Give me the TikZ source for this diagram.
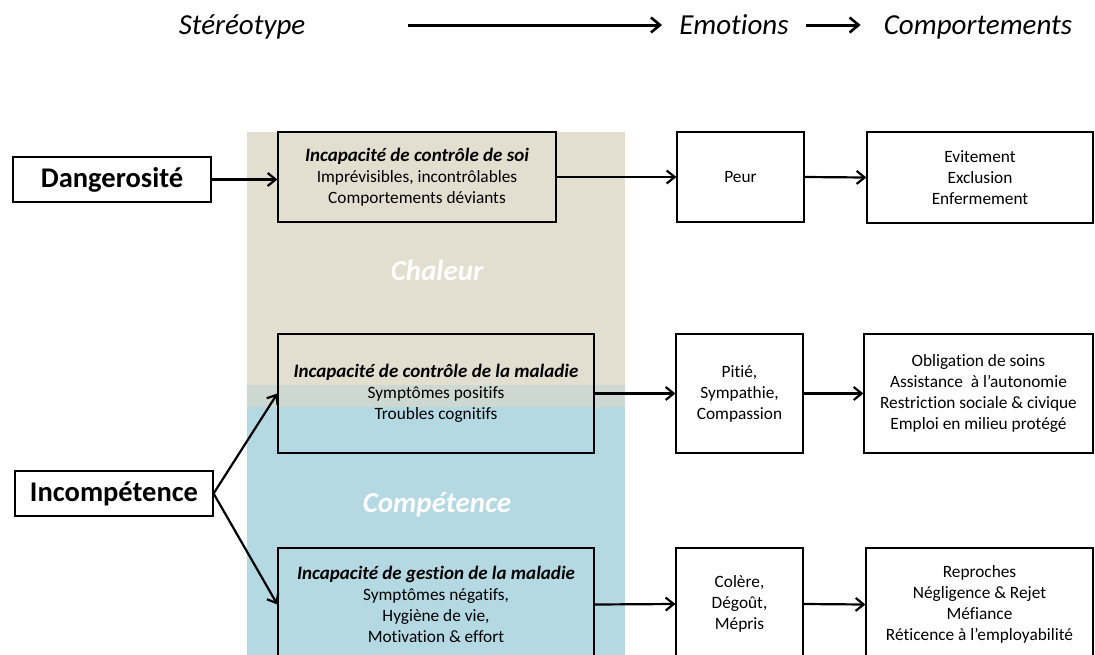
\documentclass[tikz,border=0pt]{standalone}
\usepackage{fontspec}
\setmainfont{Carlito}[Ligatures=NoCommon]
\usetikzlibrary{arrows.meta}
\definecolor{tanbg}{RGB}{227,223,208}
\definecolor{bluebg}{RGB}{180,217,227}
\definecolor{mixbg}{RGB}{205,216,210}
\newcommand{\btitle}[1]{{\fontsize{19}{21}\selectfont\bfseries\itshape #1}}
\tikzset{
  box/.style={draw=black, line width=1.2pt, align=center, font=\fontsize{17.3}{21}\selectfont, inner sep=0pt},
  keybox/.style={draw=black, line width=1.2pt, font=\fontsize{28.5}{30}\selectfont\bfseries, inner sep=0pt},
  head/.style={font=\fontsize{29}{32}\selectfont\itshape, inner sep=0pt, anchor=base},
  zone/.style={text=white, font=\fontsize{29}{32}\selectfont\bfseries\itshape},
  arr/.style={line width=2.2pt, -{Straight Barb[length=8pt,width=13pt,line width=2.2pt]}},
  harr/.style={line width=3pt, -{Straight Barb[length=9pt,width=15pt,line width=2.6pt]}}
}
\begin{document}
\begin{tikzpicture}[x=1pt,y=-1pt]
\useasboundingbox (0,0) rectangle (1095,654);
\clip (0,0) rectangle (1095,654);
% background zones
\fill[tanbg] (247,132) rectangle (625,385);
\fill[mixbg] (247,385) rectangle (625,407);
\fill[bluebg] (247,407) rectangle (625,660);
\node[zone] (chaleur) at (437,270) {Chaleur};
\node[zone] (competence) at (437,505) {Compétence};
% header
\node[head] (stereo) at (242,34) {Stéréotype};
\node[head] (emo) at (734,34) {Emotions};
\node[head] (comp) at (978,34) {Comportements};
\coordinate (hs) at (408,25);
\coordinate (he) at (662,25);
\draw[harr] (hs) -- (he);
\draw[harr, shorten <=17pt, shorten >=23pt] (emo.east |- hs) -- (comp.west |- hs);
% left keys
\node[keybox, minimum width=198pt, minimum height=45pt] (dang) at (112,179.5) {Dangerosité};
\node[keybox, minimum width=198pt, minimum height=45pt] (incomp) at (114,493.5) {Incompétence};
% stereotype boxes
\node[box, fill=tanbg, minimum width=278pt, minimum height=90pt] (b1) at (417,177)
  {\btitle{Incapacité de contrôle de soi}\\Imprévisibles, incontrôlables\\Comportements déviants};
\node[box, minimum width=316pt, minimum height=119pt] (b2) at (436,393.5)
  {\btitle{Incapacité de contrôle de la maladie}\\Symptômes positifs\\Troubles cognitifs};
\node[box, minimum width=316pt, minimum height=113pt] (b3) at (436,604.5)
  {\btitle{Incapacité de gestion de la maladie}\\Symptômes négatifs,\\Hygiène de vie,\\Motivation \& effort};
% emotion boxes
\node[box, fill=white, minimum width=127pt, minimum height=90pt] (e1) at (740.5,177) {Peur};
\node[box, fill=white, minimum width=127pt, minimum height=119pt] (e2) at (739.5,393.5) {Pitié,\\Sympathie,\\Compassion};
\node[box, fill=white, minimum width=127pt, minimum height=112pt] (e3) at (739.5,604) {Colère,\\Dégoût,\\Mépris};
% behaviour boxes
\node[box, fill=white, minimum width=226pt, minimum height=91pt] (c1) at (980,177.5) {Evitement\\Exclusion\\Enfermement};
\node[box, fill=white, minimum width=229pt, minimum height=119pt] (c2) at (978.5,393.5) {Obligation de soins\\Assistance~ à l’autonomie\\Restriction sociale \& civique\\Emploi en milieu protégé};
\node[box, fill=white, minimum width=227pt, minimum height=113pt] (c3) at (979.5,604.5) {Reproches\\Négligence \& Rejet\\Méfiance\\Réticence à l’employabilité};
% connectors
\draw[arr] (dang.east) -- (dang.east -| b1.west);
\draw[arr] (b1.east) -- (e1.west);
\draw[arr] (e1.east) -- (c1.west);
\draw[arr] (incomp.east) -- (b2.west);
\draw[arr] (incomp.east) -- (b3.west);
\draw[arr] (b2.east) -- (e2.west);
\draw[arr] (e2.east) -- (c2.west);
\draw[arr] (b3.east) -- (e3.west);
\draw[arr] (e3.east) -- (c3.west);
\end{tikzpicture}
\end{document}
